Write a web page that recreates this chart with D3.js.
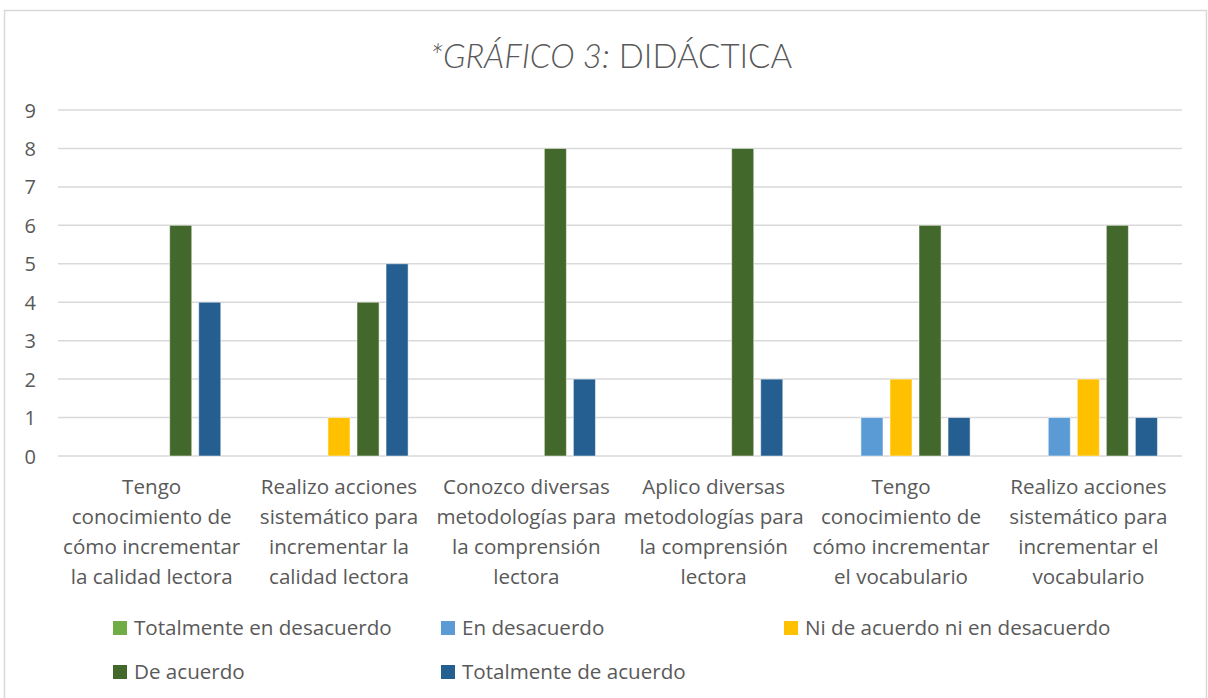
<!DOCTYPE html>
<html>
<head>
<meta charset="utf-8">
<script src="https://cdn.jsdelivr.net/npm/d3@7"></script>
<style>
	body { margin: 0; background: #fff; }
	text { font-family: "Open Sans", Lato, sans-serif; fill: #595959; }
</style>
</head>
<body>
<svg id="chart" width="1208" height="698"></svg>
<script>
var categories = [
	["Tengo", "conocimiento de", "cómo incrementar", "la calidad lectora"],
	["Realizo acciones", "sistemático para", "incrementar la", "calidad lectora"],
	["Conozco diversas", "metodologías para", "la comprensión", "lectora"],
	["Aplico diversas", "metodologías para", "la comprensión", "lectora"],
	["Tengo", "conocimiento de", "cómo incrementar", "el vocabulario"],
	["Realizo acciones", "sistemático para", "incrementar el", "vocabulario"]
];
var series = ["Totalmente en desacuerdo", "En desacuerdo", "Ni de acuerdo ni en desacuerdo", "De acuerdo", "Totalmente de acuerdo"];
var colors = ["#70ad47", "#5b9bd5", "#ffc000", "#43682b", "#255e91"];

var totDesacuerdo = [0, 0, 0, 0, 0, 0];
var enDesacuerdo  = [0, 0, 0, 0, 1, 1];
var niNi          = [0, 1, 0, 0, 2, 2];
var deAcuerdo     = [6, 4, 8, 8, 6, 6];
var totAcuerdo    = [4, 5, 2, 2, 1, 1];
var values = [totDesacuerdo, enDesacuerdo, niNi, deAcuerdo, totAcuerdo];

var yTicks = [0, 1, 2, 3, 4, 5, 6, 7, 8, 9];

var svg = d3.select("#chart");

// chart frame
svg.append("rect")
	.attr("x", 4.5).attr("y", 10.5)
	.attr("width", 1202).attr("height", 700)
	.attr("fill", "#fff")
	.attr("stroke", "#d9d9d9")
	.attr("stroke-width", 1.5);

var title = svg.append("text")
	.attr("x", 611).attr("y", 68)
	.attr("text-anchor", "middle")
	.style("font-family", "Lato, sans-serif")
	.style("font-size", "33px")
	.style("font-weight", 300);
title.append("tspan").style("font-style", "italic").text("*GRÁFICO 3:");
title.append("tspan").text(" DIDÁCTICA");

var pLeft = 58, pRight = 1182, pTop = 110, pBottom = 456;

var x0 = d3.scaleBand()
	.domain(d3.range(categories.length))
	.range([pLeft, pRight])
	.paddingInner(0.225)
	.paddingOuter(0.1125);

var x1 = d3.scaleBand()
	.domain(d3.range(series.length))
	.range([0, x0.bandwidth()])
	.paddingInner(0.24)
	.paddingOuter(0.12);

var y = d3.scaleLinear()
	.domain([0, 9])
	.range([pBottom, pTop]);

// gridlines
svg.append("g")
	.selectAll("line")
	.data(yTicks)
	.enter()
	.append("line")
	.attr("x1", pLeft).attr("x2", pRight)
	.attr("y1", function(d) { return y(d); })
	.attr("y2", function(d) { return y(d); })
	.attr("stroke", "#d9d9d9")
	.attr("stroke-width", 1.5);

var yAxis = d3.axisLeft(y)
	.tickValues(yTicks)
	.tickSize(0)
	.tickPadding(22);

var yG = svg.append("g")
	.attr("transform", "translate(" + pLeft + ",0)")
	.call(yAxis);
yG.select(".domain").remove();
yG.selectAll("text")
	.style("font-size", "20px")
	.style("font-family", "'Open Sans', sans-serif")
	.attr("fill", "#595959")
	.attr("dy", "0.35em");

// bars
var groups = svg.append("g")
	.selectAll("g")
	.data(categories)
	.enter()
	.append("g")
	.attr("transform", function(d, i) { return "translate(" + x0(i) + ",0)"; });

groups.selectAll("rect")
	.data(function(d, i) {
		return values.map(function(s, k) { return {k: k, v: s[i]}; });
	})
	.enter()
	.append("rect")
	.filter(function(d) { return d.v > 0; })
	.attr("x", function(d) { return x1(d.k); })
	.attr("width", x1.bandwidth())
	.attr("y", function(d) { return y(d.v); })
	.attr("height", function(d) { return y(0) - y(d.v); })
	.attr("fill", function(d) { return colors[d.k]; })
	.attr("stroke", "#fff")
	.attr("stroke-opacity", 0.5)
	.attr("stroke-width", 1);

// category labels
var labels = svg.append("g")
	.selectAll("text")
	.data(categories)
	.enter()
	.append("text")
	.attr("text-anchor", "middle")
	.style("font-size", "20.6px")
	.attr("transform", function(d, i) {
		return "translate(" + (x0(i) + x0.bandwidth() / 2) + ",494)";
	});

labels.selectAll("tspan")
	.data(function(d) { return d; })
	.enter()
	.append("tspan")
	.attr("x", 0)
	.attr("y", function(d, i) { return i * 30; })
	.text(function(d) { return d; });

// legend
var legendPos = [[113, 628], [441, 628], [784, 628], [113, 672], [441, 672]];

var legend = svg.append("g")
	.selectAll("g")
	.data(series)
	.enter()
	.append("g")
	.attr("transform", function(d, i) {
		return "translate(" + legendPos[i][0] + "," + legendPos[i][1] + ")";
	});

legend.append("rect")
	.attr("x", 0).attr("y", -7)
	.attr("width", 14).attr("height", 14)
	.attr("fill", function(d, i) { return colors[i]; });

legend.append("text")
	.attr("x", 21)
	.attr("dy", "0.35em")
	.style("font-size", "20.6px")
	.text(function(d) { return d; });
</script>
</body>
</html>
